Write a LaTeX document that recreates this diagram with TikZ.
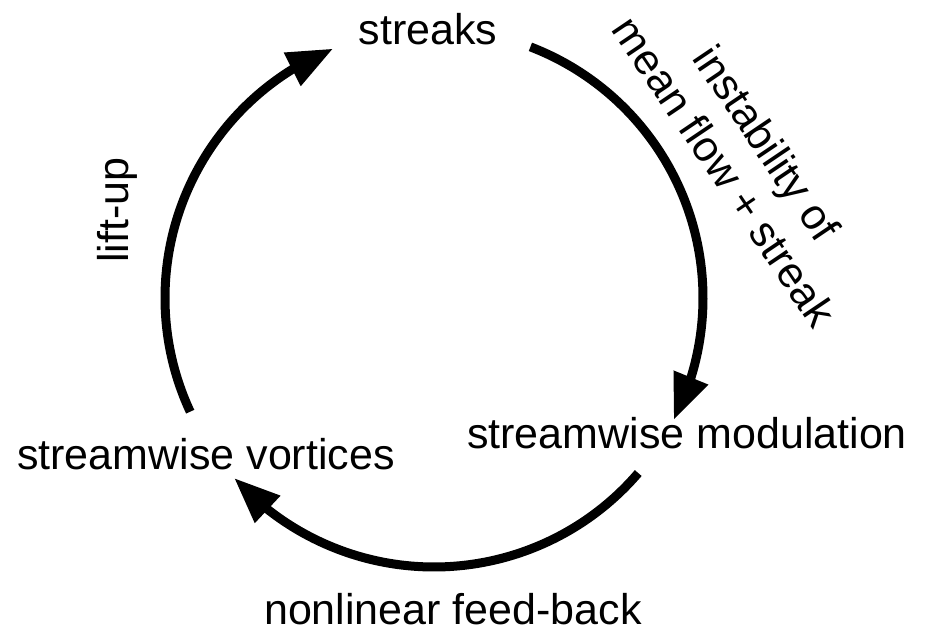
\documentclass[tikz,border=0pt]{standalone}
\usepackage{fontspec}
\setmainfont{Liberation Sans}
\usetikzlibrary{arrows.meta,bending,calc}
\begin{document}
\begin{tikzpicture}[x=1pt,y=1pt,
  lbl/.style={inner sep=0pt,font=\fontsize{43}{51}\selectfont},
  cyc/.style={line width=9pt,-{Triangle[length=46pt,width=35pt]}}]
\useasboundingbox (0,0) rectangle (930,635);
\coordinate (c) at (434,337);
\node[lbl,anchor=base] (streaks) at (428,590) {streaks};
\node[lbl,anchor=base west] (smod) at (467,186) {streamwise modulation};
\node[lbl,anchor=base west] (svort) at (17,165) {streamwise vortices};
\node[lbl,anchor=base] (nfb) at (453,10) {nonlinear feed-back};
\node[lbl,anchor=base,rotate=90] (lift) at (128,425) {lift-up};
\node[lbl,align=center,rotate=-56] (inst) at (746,478) {instability of\\mean flow + streak};
\coordinate (a1) at ($(c)+(69:269)$);
\coordinate (a2) at ($(c)+(-40.6:269)$);
\coordinate (a3) at ($(c)+(205:269)$);
\draw[cyc] (a1) arc[start angle=69,end angle=-27,radius=269];
\draw[cyc] (a2) arc[start angle=-40.6,end angle=-138,radius=269];
\draw[cyc] (a3) arc[start angle=205,end angle=112,radius=269];
\end{tikzpicture}
\end{document}
